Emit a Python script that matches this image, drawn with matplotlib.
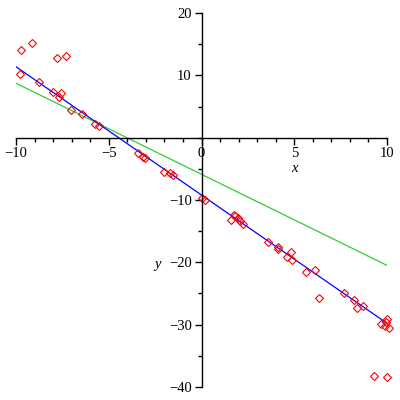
import matplotlib
matplotlib.use("Agg")
import matplotlib.pyplot as plt
import numpy as np
from matplotlib.ticker import MultipleLocator

# data points
x_pts = [-9.73, -9.12, -7.77, -7.29, -9.77, -8.78, -7.99, -7.56, -7.70, -7.04,
         -6.44, -5.72, -5.53, -3.41, -3.17, -3.06, -2.02, -1.68, -1.54, 0.0,
         0.2, 1.75, 1.82, 1.59, 1.97, 2.08, 2.22, 3.57, 4.11, 4.11,
         4.84, 4.63, 4.90, 6.14, 5.65, 6.35, 7.70, 8.20, 8.40, 8.69,
         9.98, 9.95, 9.69, 9.91, 10.09, 9.32, 9.98]
y_pts = [14.05, 15.2, 12.8, 13.1, 10.2, 8.96, 7.35, 7.14, 6.49, 4.4,
         3.76, 2.25, 1.93, -2.5, -3.05, -3.26, -5.57, -5.73, -6.0, -9.6,
         -10.0, -12.4, -12.5, -13.2, -12.96, -13.4, -13.9, -16.7, -17.5, -17.8,
         -18.4, -19.2, -19.6, -21.3, -21.6, -25.7, -24.9, -26.0, -27.3, -27.1,
         -29.1, -29.6, -29.9, -30.2, -30.5, -38.2, -38.4]

# fitted lines (end points)
line_x = [-10, 10]
blue_y = [11.4, -29.8]
green_y = [8.75, -20.5]

plt.rcParams["font.family"] = ["Liberation Serif", "DejaVu Serif"]

fig = plt.figure(figsize=(4, 4), dpi=100)
ax = fig.add_axes([0.04, 0.033, 0.9275, 0.934])

ax.plot(line_x, green_y, color="#33cc33", lw=0.9)
ax.plot(line_x, blue_y, color="#0000ff", lw=0.9)
ax.plot(x_pts, y_pts, linestyle="none", marker="D", markersize=3.6,
        markerfacecolor="none", markeredgecolor="red", markeredgewidth=0.8,
        clip_on=False)

ax.set_xlim(-10, 10)
ax.set_ylim(-40, 20)

for side in ["top", "right"]:
    ax.spines[side].set_visible(False)
ax.spines["left"].set_position(("data", 0))
ax.spines["bottom"].set_position(("data", 0))
ax.spines["left"].set_linewidth(1)
ax.spines["bottom"].set_linewidth(1)

ax.set_xticks([-10, -5, 0, 5, 10])
ax.set_xticklabels(["\u221210", "\u22125", "0", "5", "10"])
ax.set_yticks([-40, -30, -20, -10, 10, 20])
ax.set_yticklabels(["\u221240", "\u221230", "\u221220", "\u221210", "10", "20"])
ax.xaxis.set_minor_locator(MultipleLocator(1))
ax.yaxis.set_minor_locator(MultipleLocator(5))
ax.tick_params(which="major", length=5, width=1, labelsize=10.5, pad=2)
ax.tick_params(which="minor", length=3, width=1)

ax.text(5, -5.0, "x", style="italic", fontsize=10.5, ha="center", va="center")
ax.text(-2.4, -20.3, "y", style="italic", fontsize=10.5, ha="center", va="center")

fig.savefig("out.png", dpi=100)
